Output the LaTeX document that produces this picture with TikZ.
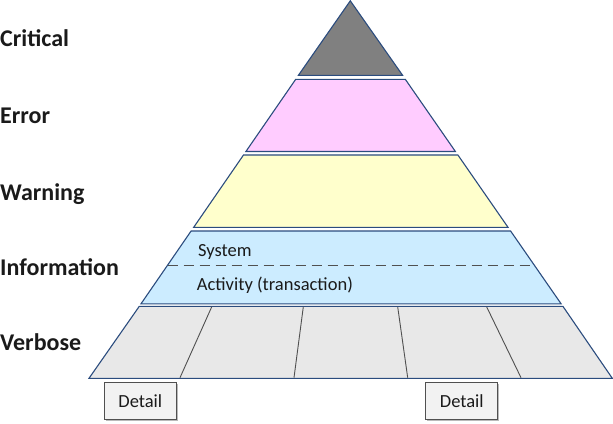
\documentclass[tikz,border=0pt]{standalone}
\usepackage{fontspec}
\setmainfont{Carlito}
\usetikzlibrary{shadows}
\definecolor{edgeblue}{HTML}{2B4C7E}
\definecolor{critfill}{HTML}{808080}
\definecolor{errfill}{HTML}{FFCCFF}
\definecolor{warnfill}{HTML}{FFFFCC}
\definecolor{infofill}{HTML}{CCECFF}
\definecolor{verbfill}{HTML}{E8E8E8}
\definecolor{boxfill}{HTML}{F2F2F2}
\definecolor{divline}{HTML}{505050}
\definecolor{txt}{HTML}{1A1A1A}
\tikzset{
  layer/.style={draw=edgeblue, line width=1.1pt, line join=miter},
  lvl/.style={font=\fontsize{24}{28}\selectfont\bfseries, text=txt, inner sep=0pt, anchor=base west},
  inner/.style={font=\fontsize{18.5}{22}\selectfont, text=txt, inner sep=0pt, anchor=base west},
  detailbox/.style={draw=divline, line width=0.9pt, fill=boxfill, minimum width=72pt, minimum height=37pt, inner sep=0pt,
    font=\fontsize{18.5}{22}\selectfont, text=txt,
    drop shadow={shadow xshift=1.2pt, shadow yshift=-1.2pt, fill=black!45, opacity=0.6}},
  divider/.style={draw=divline, line width=0.9pt},
  dashsep/.style={draw=divline, line width=0.9pt, dash pattern=on 10pt off 6pt}
}
\begin{document}
\begin{tikzpicture}[x=1pt,y=-1pt]
\useasboundingbox (0,0) rectangle (613,423);
% layers
\path[layer, fill=critfill] (350.3,0.8) -- (402.6,75.3) -- (298.4,75.3) -- cycle;
\path[layer, fill=errfill] (295.7,79.3) -- (405.3,79.3) -- (455.4,151.5) -- (245.9,151.5) -- cycle;
\path[layer, fill=warnfill] (243.5,155) -- (457.9,155) -- (508.0,227.3) -- (193.7,227.3) -- cycle;
\path[layer, fill=infofill] (191.1,231) -- (510.6,231) -- (561.1,303.8) -- (141.0,303.8) -- cycle;
\path[layer, fill=verbfill] (139.3,306.3) -- (562.9,306.3) -- (612.3,378.3) -- (89.0,378.3) -- cycle;
% information separator
\coordinate (sepL) at (167.5,265.3);
\coordinate (sepR) at (534.4,265.3);
\draw[dashsep] (sepL) -- (sepR);
% verbose dividers
\coordinate (v1t) at (211.7,306.9); \coordinate (v1b) at (180.0,377.7);
\coordinate (v2t) at (303.3,306.9); \coordinate (v2b) at (294.0,377.7);
\coordinate (v3t) at (397.7,306.9); \coordinate (v3b) at (407.7,377.7);
\coordinate (v4t) at (486.7,306.9); \coordinate (v4b) at (521.0,377.7);
\draw[divider] (v1t) -- (v1b);
\draw[divider] (v2t) -- (v2b);
\draw[divider] (v3t) -- (v3b);
\draw[divider] (v4t) -- (v4b);
% left labels
\node[lvl] (crit) at (0,46) {Critical};
\node[lvl] (err) at (0,123) {Error};
\node[lvl] (warn) at (0,200) {Warning};
\node[lvl] (info) at (0,275) {Information};
\node[lvl] (verb) at (0,350) {Verbose};
% inner texts
\node[inner] (sys) at (198,256) {System};
\node[inner] (act) at (196.7,290) {Activity (transaction)};
% detail boxes
\node[detailbox] (d1) at (140.3,401) {Detail};
\node[detailbox] (d2) at (461.8,401.2) {Detail};
\end{tikzpicture}
\end{document}
